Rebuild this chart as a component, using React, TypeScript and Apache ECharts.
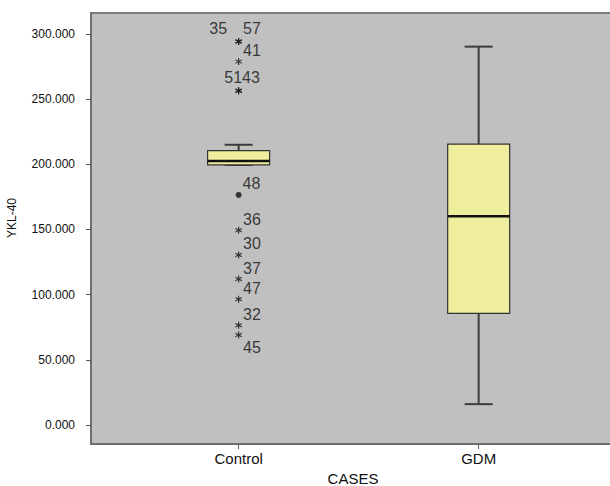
import React, { useEffect, useRef } from "react";
import * as echarts from "echarts";

// ---- data ----
const categories = ["Control", "GDM"];
const boxLow = [199.5, 16];
const boxQ1 = [199.5, 85.7];
const boxMedian = [202.5, 160.2];
const boxQ3 = [210.5, 215.5];
const boxHigh = [215, 290.3];

// extreme values (asterisks) for Control group
const extremeIds = ["57", "35", "41", "51", "43", "36", "30", "37", "47", "32", "45"];
const extremeValues = [294.3, 294.3, 278.8, 256.5, 256.5, 149.5, 130.5, 112, 96.5, 76.5, 69];
// outliers (dots) for Control group
const outlierIds = ["48"];
const outlierValues = [176.5];

const yTicks = [0, 50, 100, 150, 200, 250, 300];

// label placement styles per case id
const labelStyle: Record<string, any> = {
  "35": { position: "left", distance: 8, offset: [0, -13] },
  "51": { position: "left", distance: 0, offset: [7, -13] },
  "43": { position: "right", distance: 0, offset: [0, -13] },
  "57": { position: "right", distance: 1, offset: [0, -13] },
  "45": { position: "right", distance: 1, offset: [0, 12] },
};
const defaultLabel = { position: "right", distance: 1, offset: [0, -11] };

function asteriskPath(): string {
  const r = 5;
  const w = 0.8;
  let d = "";
  for (let k = 0; k < 3; k++) {
    const a = (Math.PI / 3) * k + Math.PI / 2;
    const ux = Math.cos(a), uy = Math.sin(a);
    const px = -uy, py = ux;
    const pts = [
      [ux * r + px * w, uy * r + py * w],
      [ux * r - px * w, uy * r - py * w],
      [-ux * r - px * w, -uy * r - py * w],
      [-ux * r + px * w, -uy * r + py * w],
    ];
    d += "M" + pts.map((p) => p[0].toFixed(3) + "," + p[1].toFixed(3)).join("L") + "Z";
  }
  return "path://" + d;
}

const FONT = "'Liberation Sans', Arial, sans-serif";

export default function App() {
  const ref = useRef<HTMLDivElement>(null);
  useEffect(() => {
    if (!ref.current) return;
    const chart = echarts.init(ref.current, undefined, { renderer: "svg" });
    const boxData = categories.map((c, i) => [i + 1, boxLow[i], boxQ1[i], boxMedian[i], boxQ3[i], boxHigh[i]]);
    const star = asteriskPath();
    const mkLabel = (id: string) => {
      const s = labelStyle[id] || defaultLabel;
      return {
        show: true,
        formatter: id,
        position: s.position,
        distance: s.distance,
        offset: s.offset,
        fontSize: 16,
        color: "#111",
        fontFamily: FONT,
      };
    };
    const option: any = {
      animation: false,
      textStyle: { fontFamily: FONT },
      grid: {
        left: 91,
        right: -5,
        top: 13,
        bottom: 42,
        outerBoundsMode: "none",
        containLabel: false,
        show: true,
        backgroundColor: "#c0c0c0",
        borderColor: "#7c7c7c",
        borderWidth: 2,
      },
      xAxis: {
        type: "value",
        min: 0.385,
        max: 2.568,
        splitLine: { show: false },
        axisLine: { show: true, onZero: false, lineStyle: { color: "#6e6e6e", width: 2 } },
        axisTick: { show: true, customValues: [1, 2], length: 5, lineStyle: { color: "#555" } },
        axisLabel: {
          customValues: [1, 2],
          formatter: (v: number) => categories[Math.round(v) - 1] || "",
          fontSize: 15,
          color: "#111",
          margin: 7,
        },
        name: "CASES",
        nameLocation: "middle",
        nameGap: 26,
        nameTextStyle: { fontSize: 15, color: "#111" },
      },
      yAxis: {
        type: "value",
        min: -14.58,
        max: 316.1,
        splitLine: { show: false },
        axisLine: { show: true, onZero: false, lineStyle: { color: "#6e6e6e", width: 2 } },
        axisTick: { show: true, customValues: yTicks, length: 5, lineStyle: { color: "#555" } },
        axisLabel: {
          customValues: yTicks,
          formatter: (v: number) => v.toFixed(3),
          fontSize: 12,
          color: "#111",
          margin: 16,
        },
      },
      graphic: [
        {
          type: "text",
          x: 12,
          y: 218,
          rotation: Math.PI / 2,
          style: {
            text: "YKL-40",
            fontSize: 12,
            fill: "#111",
            fontFamily: FONT,
            textAlign: "center",
            textVerticalAlign: "middle",
          },
        },
      ],
      series: [
        {
          type: "custom",
          data: boxData,
          encode: { x: 0, y: [1, 2, 3, 4, 5] },
          renderItem: (params: any, api: any) => {
            const x = api.value(0);
            const pLow = api.coord([x, api.value(1)]);
            const pQ1 = api.coord([x, api.value(2)]);
            const pMed = api.coord([x, api.value(3)]);
            const pQ3 = api.coord([x, api.value(4)]);
            const pHigh = api.coord([x, api.value(5)]);
            const cx = pMed[0];
            const hw = 31;
            const cap = 14;
            const wStyle = { stroke: "#3c3c3c", lineWidth: 2 };
            return {
              type: "group",
              children: [
                { type: "line", shape: { x1: cx, y1: pQ3[1], x2: cx, y2: pHigh[1] }, style: wStyle },
                { type: "line", shape: { x1: cx, y1: pQ1[1], x2: cx, y2: pLow[1] }, style: wStyle },
                { type: "line", shape: { x1: cx - cap, y1: pHigh[1], x2: cx + cap, y2: pHigh[1] }, style: wStyle },
                { type: "line", shape: { x1: cx - cap, y1: pLow[1], x2: cx + cap, y2: pLow[1] }, style: wStyle },
                {
                  type: "rect",
                  shape: { x: cx - hw, y: pQ3[1], width: hw * 2, height: pQ1[1] - pQ3[1] },
                  style: { fill: "#eeee9e", stroke: "#333", lineWidth: 1.2 },
                },
                {
                  type: "line",
                  shape: { x1: cx - hw, y1: pMed[1], x2: cx + hw, y2: pMed[1] },
                  style: { stroke: "#111", lineWidth: 2.5 },
                },
              ],
            };
          },
        },
        {
          type: "scatter",
          symbol: star,
          symbolSize: 7,
          itemStyle: { color: "#111" },
          data: extremeIds.map((id, i) => ({
            name: id,
            value: [1, extremeValues[i]],
            label: mkLabel(id),
          })),
        },
        {
          type: "scatter",
          symbol: "circle",
          symbolSize: 6,
          itemStyle: { color: "#111" },
          data: outlierIds.map((id, i) => ({
            name: id,
            value: [1, outlierValues[i]],
            label: mkLabel(id),
          })),
        },
      ],
    };
    chart.setOption(option);
    return () => chart.dispose();
  }, []);
  return (
    <div
      ref={ref}
      style={{ position: "absolute", left: 0, top: 0, width: 610, height: 486, background: "#fff", overflow: "hidden" }}
    />
  );
}
